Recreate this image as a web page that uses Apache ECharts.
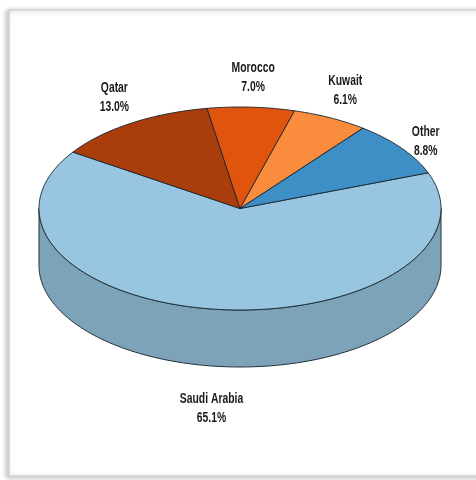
<!DOCTYPE html>
<html>
<head>
<meta charset="utf-8">
<script src="https://cdn.jsdelivr.net/npm/echarts@6/dist/echarts.min.js"></script>
<style>
html,body{margin:0;padding:0;background:#fff;}
#chart{width:476px;height:480px;}
</style>
</head>
<body>
<div id="chart"></div>
<script>
// ---- data ----
const categories = ['Saudi Arabia', 'Qatar', 'Morocco', 'Kuwait', 'Other'];
const values = [65.1, 13.0, 7.0, 6.1, 8.8];
const topColors = ['#98C6E1', '#A93E0C', '#E0540E', '#F98D3D', '#3F8FC7'];
const sideColors = ['#7DA3B8', '#7A2D09', '#A83F0B', '#BB6A2E', '#2F6B95'];

// ---- layout ----
const CX = 240, CY = 208.5, RX = 201, RY = 101.5, DEPTH = 57, START = 20.6;
const FONT = 'bold 14px "Liberation Sans", Arial, sans-serif';
const SCALE_X = 0.74;
const LINE_H = 19;

const total = values.reduce((a, b) => a + b, 0);
const measureCtx = document.createElement('canvas').getContext('2d');
measureCtx.font = FONT;

function pt(deg, dy) {
  const r = deg * Math.PI / 180;
  return [CX + RX * Math.cos(r), CY - RY * Math.sin(r) + (dy || 0)];
}
function arc(a0, a1, dy) {
  const n = Math.max(2, Math.ceil(Math.abs(a1 - a0) / 1.5));
  const out = [];
  for (let k = 0; k <= n; k++) out.push(pt(a0 + (a1 - a0) * k / n, dy));
  return out;
}

const chart = echarts.init(document.getElementById('chart'), null, {renderer: 'canvas'});

function renderItem(params, api) {
  const i = params.dataIndex;
  const v = api.value(0);
  let before = 0;
  for (let k = 0; k < i; k++) before += values[k];
  const a0 = START - before / total * 360;
  const a1 = a0 - v / total * 360;
  const children = [];
  // side walls (visible lower half)
  for (let k = -2; k <= 1; k++) {
    const lo = -180 + 360 * k, hi = 360 * k;
    const s = Math.max(a1, lo), e = Math.min(a0, hi);
    if (e > s) {
      const pts = arc(e, s, 0).concat(arc(s, e, DEPTH));
      children.push({
        type: 'polygon', z2: 1,
        shape: {points: pts},
        style: {fill: sideColors[i], stroke: '#24323b', lineWidth: 1}
      });
    }
  }
  // top face
  const topPts = [[CX, CY]].concat(arc(a0, a1, 0));
  children.push({
    type: 'polygon', z2: 10,
    shape: {points: topPts},
    style: {fill: topColors[i], stroke: '#1b262e', lineWidth: 0.9}
  });
  // label
  const mid = (a0 + a1) / 2;
  const mr = mid * Math.PI / 180;
  const c = Math.cos(mr), s = Math.sin(mr);
  const gapY = s < 0 ? 24 : 11;
  const gapX = 16;
  const lines = [categories[i], v.toFixed(1) + '%'];
  const w = SCALE_X * Math.max.apply(null, lines.map(t => measureCtx.measureText(t).width));
  const h = LINE_H * lines.length;
  const px = CX + (RX + gapX) * c;
  const py = CY - (RY + gapY) * s + (s < 0 ? DEPTH : 0);
  const lx = px + c * w / 2;
  const ly = Math.abs(s) < 0.7 ? py : py - s * h / 2;
  children.push({
    type: 'text', z2: 20,
    x: lx, y: ly, scaleX: SCALE_X,
    style: {
      text: lines.join('\n'),
      font: FONT,
      fill: '#1a1a1a',
      align: 'center',
      verticalAlign: 'middle',
      lineHeight: LINE_H
    }
  });
  return {type: 'group', children: children};
}

chart.setOption({
  animation: false,
  backgroundColor: '#ffffff',
  graphic: [{
    type: 'rect', z: -10,
    shape: {x: 9, y: 10, width: 480, height: 466},
    style: {fill: '#ffffff', stroke: '#d4d4d4', lineWidth: 1.5,
            shadowColor: 'rgba(0,0,0,0.25)', shadowBlur: 5, shadowOffsetX: -2, shadowOffsetY: 1}
  }],
  series: [{
    type: 'custom',
    coordinateSystem: 'none',
    renderItem: renderItem,
    data: categories.map((name, i) => ({name: name, value: [values[i]]}))
  }]
});
</script>
</body>
</html>
